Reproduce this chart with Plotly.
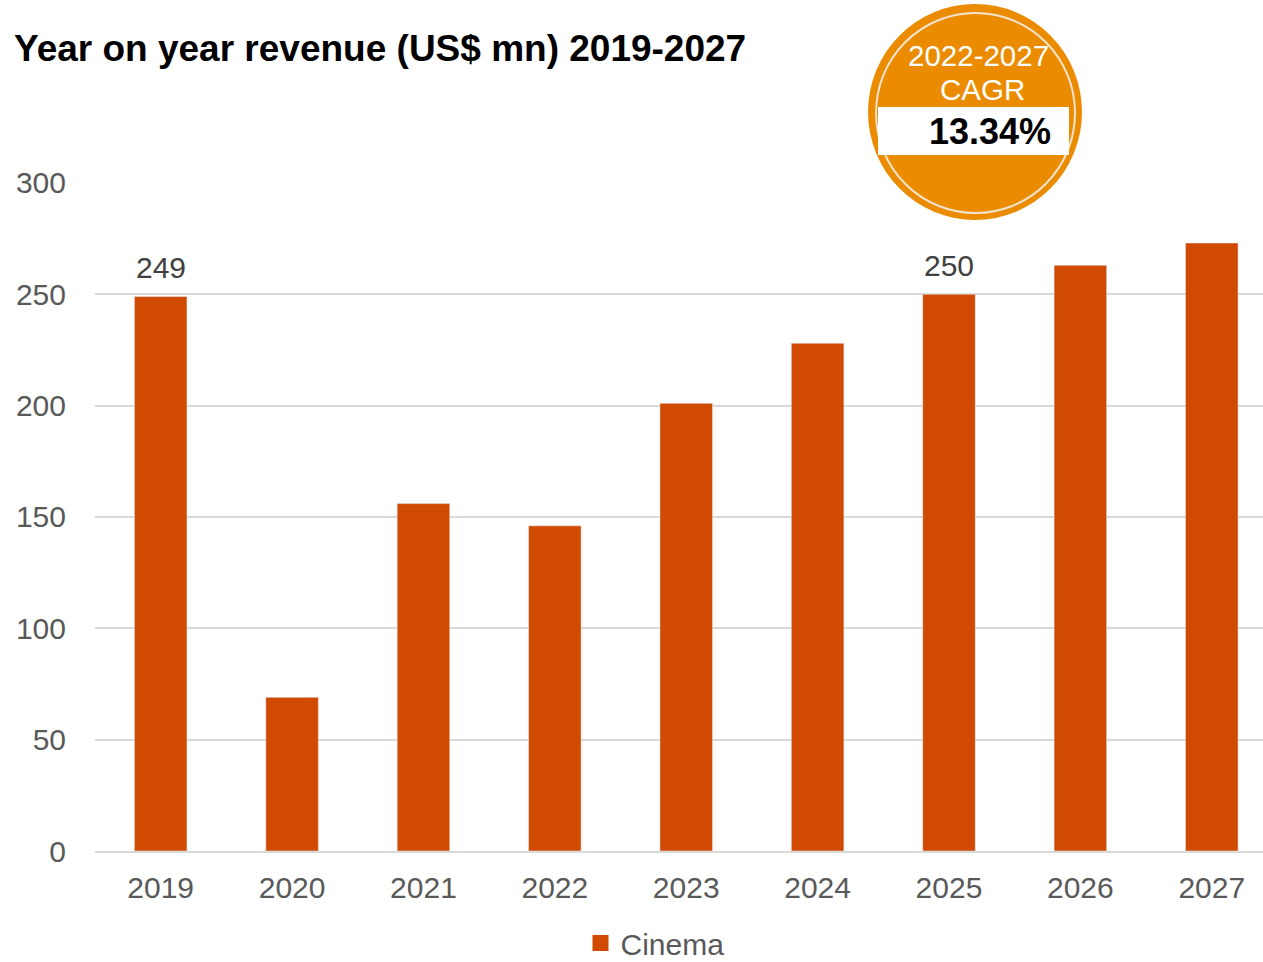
import plotly.graph_objects as go

years = ["2019", "2020", "2021", "2022", "2023", "2024", "2025", "2026", "2027"]
cinema = [249, 69, 156, 146, 201, 228, 250, 263, 273]
labelled_years = ["2019", "2025"]
y_ticks = [0, 50, 100, 150, 200, 250, 300]
cagr_period = "2022-2027"
cagr_value = "13.34%"

W, H = 1263, 962
L, R, T, B = 95, 0, 182, 111
PW, PH = W - L - R, H - T - B

def px_x(p):
    return (p - L) / PW

def px_y(p):
    return (H - B - p) / PH

FONT = "Arial, Liberation Sans, sans-serif"
BAR = "#D04A02"
BADGE = "#EB8C00"

fig = go.Figure()
fig.add_trace(go.Bar(
    x=years, y=cinema, name="Cinema", marker_color=BAR, width=0.4,
    showlegend=False,
))
# legend entry with a larger square swatch
fig.add_trace(go.Scatter(
    x=[None], y=[None], mode="markers", name="Cinema",
    marker=dict(symbol="square", size=16, color=BAR), showlegend=True,
))

annotations = []
for i, (yr, v) in enumerate(zip(years, cinema)):
    if yr in labelled_years:
        annotations.append(dict(
            x=i, y=v, xref="x", yref="y", text=str(v), showarrow=False,
            yanchor="bottom", yshift=10,
            font=dict(family=FONT, size=30, color="#404040"),
        ))

# CAGR badge
annotations += [
    dict(x=px_x(978), y=px_y(55), xref="paper", yref="paper", text=cagr_period,
         showarrow=False, xanchor="center", yanchor="middle",
         font=dict(family=FONT, size=29.5, color="white")),
    dict(x=px_x(982), y=px_y(90), xref="paper", yref="paper", text="CAGR",
         showarrow=False, xanchor="center", yanchor="middle",
         font=dict(family=FONT, size=29.5, color="white")),
    dict(x=px_x(990), y=px_y(131), xref="paper", yref="paper", text="<b>" + cagr_value + "</b>",
         showarrow=False, xanchor="center", yanchor="middle",
         font=dict(family=FONT, size=36, color="black")),
]

shapes = [
    dict(type="circle", xref="paper", yref="paper",
         x0=px_x(868), x1=px_x(1082), y0=px_y(220), y1=px_y(4),
         fillcolor=BADGE, line=dict(width=0), layer="above"),
    dict(type="circle", xref="paper", yref="paper",
         x0=px_x(876), x1=px_x(1075), y0=px_y(213), y1=px_y(13),
         fillcolor="rgba(0,0,0,0)", line=dict(width=2, color="#F2E3D0"), layer="above"),
    dict(type="rect", xref="paper", yref="paper",
         x0=px_x(878), x1=px_x(1069), y0=px_y(155), y1=px_y(107),
         fillcolor="white", line=dict(width=0), layer="above"),
]

fig.update_layout(
    width=W, height=H,
    margin=dict(l=L, r=R, t=T, b=B, pad=0, autoexpand=False),
    paper_bgcolor="white", plot_bgcolor="white",
    font=dict(family=FONT, color="#595959"),
    title=dict(text="<b>Year on year revenue (US$ mn) 2019-2027</b>",
               xref="container", yref="container", x=14 / W, y=1 - 48 / H,
               xanchor="left", yanchor="middle",
               font=dict(family=FONT, size=37, color="black")),
    xaxis=dict(type="category", range=[-0.5, 8.39], showgrid=False,
               showline=True, linecolor="#D9D9D9", linewidth=1.5,
               ticks="", tickfont=dict(size=30, color="#595959"),
               ticklabelstandoff=9, automargin=False),
    yaxis=dict(range=[0, 300.4], tickvals=y_ticks, showgrid=True,
               gridcolor="#D9D9D9", gridwidth=1.5, zeroline=False,
               showline=False, ticks="", tickfont=dict(size=30, color="#595959"),
               ticklabelstandoff=28, automargin=False),
    legend=dict(orientation="h", x=px_x(655), y=px_y(943), xanchor="center",
                yanchor="middle", font=dict(size=30, color="#595959"),
                itemwidth=30),
    annotations=annotations,
    shapes=shapes,
)

fig.write_html("out.html", config={"displayModeBar": False},
               post_script="document.body.style.margin='0';")
